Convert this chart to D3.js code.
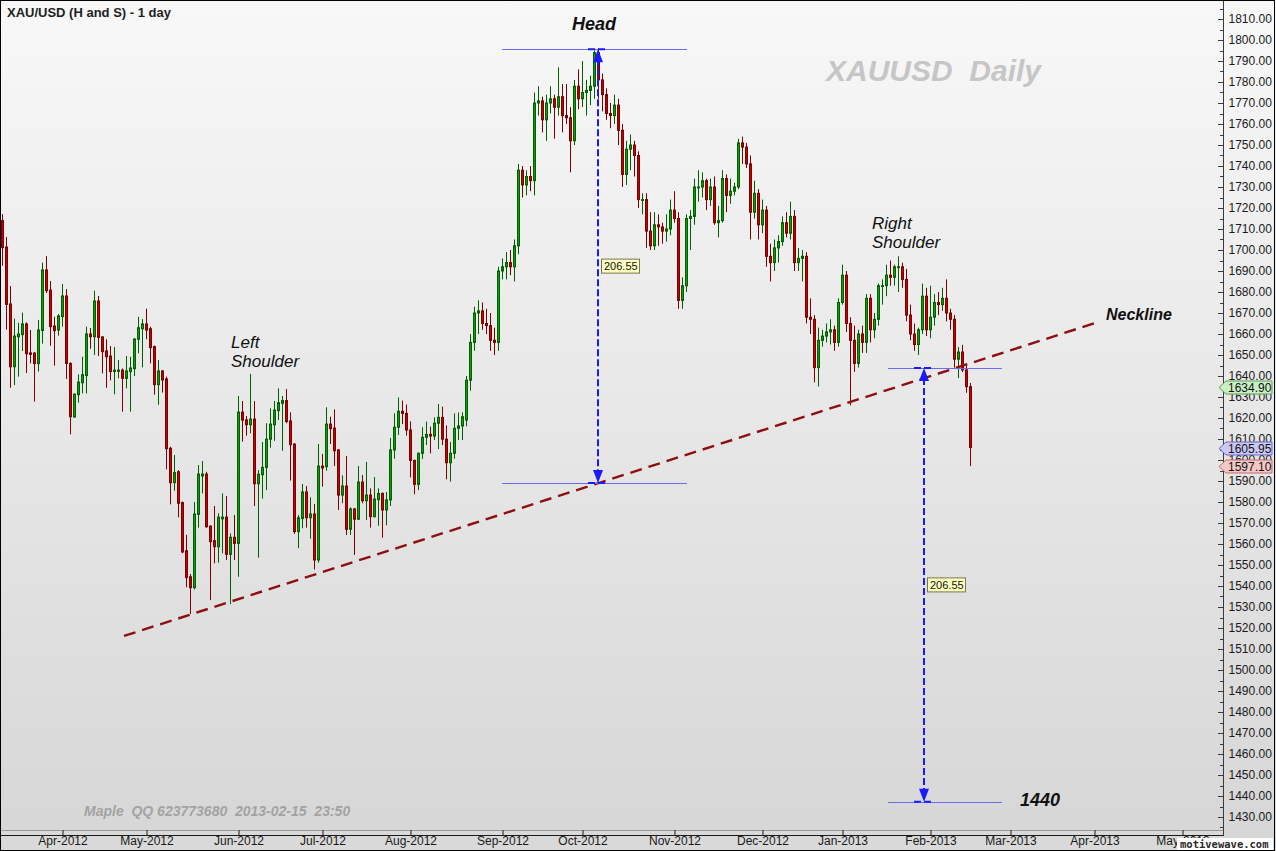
<!DOCTYPE html>
<html><head><meta charset="utf-8">
<script src="https://cdn.jsdelivr.net/npm/d3@7"></script>
<style>html,body{margin:0;padding:0;background:#fff;}svg{display:block;}</style>
</head><body>
<script>
// ---------- DATA (daily XAU/USD, first bar = 2012-03-12) ----------
const firstDay = "2012-03-12";
const lastAxisDay = "2013-05-31";
const holidays = ["2012-12-25", "2013-01-01"];
const openP = [1714.0,1701.4,1674.3,1644.4,1658.7,1659.7,1664.8,1651.0,1650.9,1645.9,1661.7,1690.5,1680.9,1663.8,1661.9,1668.3,1678.1,1646.0,1620.5,1631.1,
1636.8,1640.2,1660.0,1658.7,1675.7,1658.6,1651.9,1649.5,1642.1,1642.2,1642.8,1638.9,1642.1,1643.5,1657.5,1662.5,1664.8,1662.5,1654.0,1635.9,
1642.4,1638.6,1605.6,1589.2,1594.4,1579.7,1556.8,1544.4,1539.2,1574.1,1592.4,1593.3,1568.5,1561.6,1558.7,1572.0,1572.8,1555.1,1563.2,1560.3,
1622.8,1619.1,1616.8,1619.5,1588.7,1593.0,1596.5,1609.9,1616.8,1623.5,1627.0,1628.3,1618.6,1607.6,1565.9,1572.2,1584.8,1572.5,1574.3,1552.4,
1597.1,1596.8,1617.1,1615.2,1604.8,1583.3,1587.6,1567.0,1576.7,1571.8,1589.5,1580.6,1583.3,1573.0,1581.1,1584.1,1576.2,1581.0,1604.8,1615.6,
1623.2,1622.2,1614.3,1599.8,1588.4,1603.2,1610.8,1612.2,1611.4,1617.5,1620.3,1609.9,1598.7,1603.2,1615.1,1616.2,
1619,1638,1656,1670,1671,1665,1664,1657,1656,1690,1692,1694,1692,1702,1738,1731,1735,1733,1770,1771,
1762,1770,1772,1768,1773,1764,1763,1752,1778,1772,1775,1776,1778,1794,1781,1774,1765,1764,1769,1757,
1736,1748,1750,1745,1724,1724,1709,1702,1712,1711,1709,1710,1719,1715,1676,1683,1715,1716,1730,1730,
1733,1724,1730,1713,1714,1734,1726,1728,1730,1751,1749,1741,1718,1727,1712,1719,1697,1694,1701,1704,
1713,1708,1716,1694,1696,1697,1668,1667,1644,1657,1659,1661,1662,1656,1675,1688,1665,1657,1646,1660,
1656,1677,1662,1667,1683,1683,1688,1687,1692,1692,1686,1669,1660,1655,1662,1678,1662,1668,1675,1674,
1677,1670,1667,1648,1651.4,1642.9,1634.9];
const highP = [1717.1,1706.2,1682.8,1667.3,1665.4,1670.2,1665.5,1661.9,1651.5,1666.7,1694.0,1697.1,1685.2,1668.2,1669.5,1683.8,1681.4,1646.5,1631.6,1640.8,
1649.2,1663.5,1662.9,1680.6,1678.1,1659.0,1657.5,1654.3,1653.8,1647.6,1643.6,1649.5,1649.2,1658.0,1668.2,1667.1,1672.1,1663.5,1654.5,1647.6,
1642.8,1639.7,1606.3,1602.4,1595.2,1580.2,1564.4,1545.7,1580.0,1597.6,1599.5,1594.4,1568.9,1578.1,1574.6,1584.1,1582.9,1565.0,1573.8,1630.5,
1628.1,1620.9,1641.0,1628.0,1595.2,1608.6,1617.5,1624.6,1628.1,1634.1,1630.5,1633.8,1622.7,1608.0,1573.8,1588.6,1587.6,1582.2,1579.1,1607.6,
1602.9,1625.1,1620.6,1624.1,1605.2,1592.7,1601.9,1577.5,1577.2,1597.1,1592.9,1599.1,1586.5,1591.9,1586.5,1584.5,1584.8,1610.5,1622.2,1629.8,
1628.3,1626.4,1618.4,1600.2,1603.6,1615.6,1618.3,1615.9,1620.3,1626.7,1625.4,1616.5,1608.6,1622.2,1622.7,1622.7,
1640,1660,1673,1676,1675,1672,1670,1663,1692,1696,1699,1700,1705,1741,1740,1738,1740,1775,1778,1773,
1774,1778,1774,1787,1779,1779,1768,1781,1786,1790,1781,1783,1795,1796,1784,1777,1770,1774,1772,1760,
1752,1755,1752,1747,1727,1727,1718,1718,1717,1713,1717,1724,1728,1718,1687,1717,1719,1734,1738,1737,
1734,1734,1735,1721,1738,1736,1734,1732,1753,1754,1751,1745,1733,1729,1724,1721,1703,1705,1707,1716,
1718,1723,1719,1701,1700,1699,1677,1669,1663,1662,1665,1667,1664,1677,1693,1690,1668,1664,1662,1664,
1679,1679,1670,1684,1686,1693,1695,1693,1697,1694,1691,1674,1665,1663,1684,1682,1683,1679,1680,1682,
1686,1672,1669,1653.8,1654.8,1646,1636.7];
const lowP = [1692.5,1662.1,1634.4,1635.7,1639.7,1651.9,1641.4,1646.0,1627.8,1642.1,1655.4,1679.5,1654.4,1644.9,1659.2,1663.5,1638.6,1612.2,1620.2,1627.3,
1631.7,1631.7,1653.0,1650.0,1649.5,1641.3,1634.4,1637.9,1631.3,1638.9,1623.0,1634.1,1623.0,1640.0,1650.8,1644.1,1657.5,1646.0,1631.1,1626.3,
1632.1,1595.6,1578.9,1585.4,1572.7,1555.6,1539.4,1526.7,1538.4,1567.8,1584.1,1567.8,1533.3,1550.8,1551.1,1555.6,1552.4,1531.4,1552.4,1544.4,
1608.7,1611.6,1612.7,1578.1,1553.5,1581.6,1585.7,1605.9,1609.1,1619.1,1604.4,1617.5,1590.2,1564.8,1558.0,1567.5,1567.8,1562.5,1547.9,1551.1,
1587.3,1594.9,1607.6,1597.1,1576.2,1579.4,1564.3,1564.3,1554.8,1571.4,1579.4,1571.4,1567.8,1572.7,1568.7,1563.0,1568.9,1578.1,1600.6,1611.9,
1617.1,1611.6,1591.7,1583.7,1585.7,1600.5,1607.1,1603.2,1609.5,1605.2,1607.1,1590.8,1589.7,1600.6,1609.5,1609.5,
1616,1633,1652,1660,1662,1660,1652,1650,1652,1686,1686,1688,1685,1698,1725,1726,1728,1726,1764,1756,
1752,1765,1753,1764,1756,1760,1737,1750,1767,1768,1764,1769,1772,1772,1766,1762,1758,1760,1750,1730,
1731,1738,1735,1720,1717,1701,1700,1700,1702,1703,1704,1707,1713,1672,1672,1680,1700,1712,1723,1725,
1719,1721,1712,1706,1713,1718,1722,1726,1729,1741,1739,1705,1715,1705,1708,1692,1685,1690,1694,1702,
1706,1705,1690,1690,1685,1665,1660,1637,1635,1654,1656,1655,1652,1654,1674,1661,1626,1642,1644,1651,
1651,1656,1658,1664,1674,1678,1683,1683,1680,1682,1666,1657,1652,1650,1660,1659,1658,1664,1669,1671,
1666,1662,1644,1639,1641.9,1632,1597.1];
const closeP = [1701.1,1674.1,1644.4,1659.0,1660.0,1664.8,1650.6,1650.3,1645.9,1661.9,1690.5,1680.6,1663.5,1661.6,1668.6,1678.1,1646.0,1620.6,1631.4,1637.1,
1640.6,1660.0,1658.7,1675.7,1658.4,1651.6,1649.2,1642.1,1642.8,1642.8,1638.9,1642.4,1643.8,1657.6,1663.0,1664.8,1661.9,1653.5,1635.9,1642.4,
1638.1,1605.4,1589.2,1594.0,1579.4,1556.2,1544.0,1539.2,1574.3,1593.3,1593.3,1568.2,1561.1,1558.7,1572.8,1572.8,1555.1,1563.2,1560.3,1622.8,
1619.0,1616.8,1619.5,1588.7,1593.2,1596.5,1609.9,1617.1,1623.8,1627.3,1628.3,1618.3,1607.3,1565.9,1572.5,1584.8,1572.5,1574.3,1552.4,1597.1,
1596.2,1617.1,1614.9,1604.4,1583.3,1587.6,1567.0,1576.7,1571.8,1589.5,1580.6,1583.3,1573.0,1581.4,1584.1,1576.2,1581.0,1604.8,1615.6,1623.2,
1622.2,1614.3,1599.8,1588.4,1603.2,1610.8,1612.2,1611.4,1617.5,1620.3,1609.9,1598.7,1603.2,1615.1,1616.2,1620.6,
1638,1656,1670,1671,1665,1664,1657,1656,1690,1692,1694,1692,1702,1738,1731,1735,1733,1770,1771,1762,
1770,1772,1768,1773,1764,1763,1752,1778,1772,1775,1776,1778,1794,1781,1774,1765,1764,1769,1757,1736,
1748,1750,1745,1724,1724,1709,1702,1712,1711,1709,1710,1719,1715,1676,1683,1715,1716,1730,1730,1733,
1724,1730,1713,1714,1734,1726,1728,1730,1751,1749,1741,1718,1727,1712,1719,1697,1694,1701,1704,1713,
1708,1716,1694,1696,1697,1668,1667,1644,1657,1659,1661,1662,1656,1675,1688,1665,1657,1646,1660,1656,
1677,1662,1667,1683,1683,1688,1687,1692,1692,1686,1669,1660,1655,1662,1678,1662,1668,1675,1674,1677,
1670,1667,1648,1651.4,1642.9,1634.9,1605.95];
const yTickValues = d3.range(1430, 1811, 10);
const yMinorValues = d3.range(1425, 1816, 5);
const priceTags = [
  {value: 1634.90, fill: "#c9f0c4", stroke: "#5c9f55"},
  {value: 1605.95, fill: "#cbc8f5", stroke: "#6a66c2"},
  {value: 1597.10, fill: "#f5c8c8", stroke: "#c26a6a"}
];
// Neckline endpoints: [bar index, price]
const neckline = [[30.5, 1516.2], [273.25, 1665.2]];
// Measured moves: bar index of arrow, from/to price, horizontal line span (bar indexes)
const measures = [
  {at: 149, top: 1795.6, bottom: 1589.05, span: [125, 171.25]},
  {at: 230.5, top: 1643.8, bottom: 1437.25, span: [221.5, 250]}
];
const measureLabel = "206.55";

// ---------- BUILD TRADING DAYS ----------
const parse = d3.utcParse("%Y-%m-%d");
const fmtKey = d3.utcFormat("%Y-%m-%d");
const allDays = d3.utcDays(parse(firstDay), d3.utcDay.offset(parse(lastAxisDay), 1))
  .filter(d => d.getUTCDay() !== 0 && d.getUTCDay() !== 6 && !holidays.includes(fmtKey(d)));
const bars = closeP.map((c, i) => ({i, date: allDays[i], o: openP[i], h: highP[i], l: lowP[i], c}));

// ---------- SVG ----------
const W = 1276, H = 851;
const FONT = "'Liberation Sans', Arial, sans-serif";
const svg = d3.select("body").append("svg").attr("width", W).attr("height", H)
  .style("font-family", FONT);
const defs = svg.append("defs");
const grad = defs.append("linearGradient").attr("id", "bg").attr("x1", 0).attr("y1", 0).attr("x2", 0).attr("y2", 1);
grad.append("stop").attr("offset", "0%").attr("stop-color", "#f8f8f8");
grad.append("stop").attr("offset", "100%").attr("stop-color", "#d6d6d6");
svg.append("rect").attr("width", W).attr("height", H).attr("fill", "url(#bg)");

const plotRight = 1223, plotBottom = 830;
const x = d3.scaleLinear().domain([0, 1]).range([2, 6]);
const y = d3.scaleLinear().domain([1430, 1810]).range([817, 19]);

// bottom axis band
svg.append("rect").attr("x", 0).attr("y", plotBottom).attr("width", plotRight).attr("height", H - plotBottom).attr("fill", "#d9d9d9");
svg.append("line").attr("x1", 0).attr("x2", plotRight).attr("y1", plotBottom + 0.5).attr("y2", plotBottom + 0.5).attr("stroke", "#9a9a9a");
svg.append("line").attr("x1", 0).attr("x2", plotRight).attr("y1", plotBottom + 5.5).attr("y2", plotBottom + 5.5).attr("stroke", "#1a1a1a");

// month ticks
const monthStarts = [];
allDays.forEach((d, i) => { if (i > 0 && d.getUTCMonth() !== allDays[i - 1].getUTCMonth()) monthStarts.push(i); });
const xAxis = d3.axisBottom(x).tickValues(monthStarts).tickSize(5).tickPadding(3)
  .tickFormat(i => d3.utcFormat("%b-%Y")(allDays[i]));
const gx = svg.append("g").attr("transform", `translate(0.5,${plotBottom})`).call(xAxis);
gx.select(".domain").remove();
gx.selectAll(".tick line").attr("stroke", "#1a1a1a");
gx.selectAll(".tick text").attr("font-size", 12).attr("fill", "#1a1a1a")
  .attr("font-family", FONT).attr("dy", "0.6em");

// right axis
const gy = svg.append("g").attr("transform", `translate(${plotRight + 0.5},0)`)
  .call(d3.axisRight(y).tickValues(yTickValues).tickSize(0).tickPadding(5).tickFormat(d3.format(".2f")));
gy.select(".domain").remove();
gy.selectAll(".tick text").attr("font-size", 12).attr("fill", "#1a1a1a").attr("font-family", FONT);
svg.append("line").attr("x1", plotRight + 0.5).attr("x2", plotRight + 0.5).attr("y1", 0).attr("y2", plotBottom + 6).attr("stroke", "#3a3a3a");
svg.append("g").selectAll("line").data(yMinorValues).join("line")
  .attr("x1", d => plotRight - (d % 10 === 0 ? 5 : 3)).attr("x2", plotRight)
  .attr("y1", d => Math.round(y(d)) + 0.5).attr("y2", d => Math.round(y(d)) + 0.5)
  .attr("stroke", "#3a3a3a");

// ---------- TEXTS ----------
svg.append("text").attr("x", 7).attr("y", 17).attr("font-size", 13).attr("font-weight", "bold").attr("fill", "#1e1e1e")
  .text("XAU/USD (H and S) - 1 day");
svg.append("text").attr("x", 826).attr("y", 81).attr("font-size", 30).attr("font-weight", "bold").attr("font-style", "italic")
  .attr("fill", "#c6c6c6").style("white-space", "pre").text("XAUUSD  Daily");
svg.append("text").attr("x", 84).attr("y", 816).attr("font-size", 14).attr("font-weight", "bold").attr("font-style", "italic")
  .attr("fill", "#a3a3a3").style("white-space", "pre").text("Maple  QQ 623773680  2013-02-15  23:50");

// ---------- CANDLES ----------
const up = "#109a10", upDark = "#006000", dn = "#c40000", dnDark = "#7c0000";
const gC = svg.append("g");
gC.selectAll("line").data(bars).join("line")
  .attr("x1", d => x(d.i) + 0.5).attr("x2", d => x(d.i) + 0.5)
  .attr("y1", d => y(d.h)).attr("y2", d => y(d.l))
  .attr("stroke", d => d.c >= d.o ? upDark : dnDark).attr("stroke-width", 1);
gC.selectAll("rect").data(bars).join("rect")
  .attr("x", d => x(d.i) - 0.5).attr("width", 2)
  .attr("y", d => y(Math.max(d.o, d.c)))
  .attr("height", d => Math.max(0.8, Math.abs(y(d.o) - y(d.c))))
  .attr("fill", d => d.c >= d.o ? up : dn)
  .attr("stroke", d => d.c >= d.o ? upDark : dnDark).attr("stroke-width", 1);

// ---------- NECKLINE ----------
svg.append("line")
  .attr("x1", x(neckline[0][0])).attr("y1", y(neckline[0][1]))
  .attr("x2", x(neckline[1][0])).attr("y2", y(neckline[1][1]))
  .attr("stroke", "#8e0f0f").attr("stroke-width", 2.4).attr("stroke-dasharray", "12,7");

// ---------- MEASURES ----------
const blue = "#1a1aff";
measures.forEach(m => {
  const ax = x(m.at);
  [m.top, m.bottom].forEach(v => {
    svg.append("line").attr("x1", x(m.span[0])).attr("x2", x(m.span[1]))
      .attr("y1", Math.round(y(v)) + 0.5).attr("y2", Math.round(y(v)) + 0.5)
      .attr("stroke", "#6a6aff").attr("stroke-width", 1);
    svg.append("line").attr("x1", ax - 10).attr("x2", ax + 10).attr("y1", y(v)).attr("y2", y(v))
      .attr("stroke", blue).attr("stroke-width", 2).attr("stroke-dasharray", "7,3");
  });
  svg.append("line").attr("x1", ax).attr("x2", ax).attr("y1", y(m.top) + 10).attr("y2", y(m.bottom) - 10)
    .attr("stroke", blue).attr("stroke-width", 2).attr("stroke-dasharray", "7,3");
  const yt = y(m.top), yb = y(m.bottom);
  svg.append("path").attr("d", `M${ax},${yt} L${ax - 5},${yt + 13} L${ax + 5},${yt + 13} Z`).attr("fill", blue);
  svg.append("path").attr("d", `M${ax},${yb} L${ax - 5},${yb - 13} L${ax + 5},${yb - 13} Z`).attr("fill", blue);
  const mid = y((m.top + m.bottom) / 2);
  const g = svg.append("g").attr("transform", `translate(${ax + 3},${mid - 7.5})`);
  g.append("rect").attr("x", 0.5).attr("y", 0.5).attr("width", 38).attr("height", 14)
    .attr("fill", "#ffffc2").attr("stroke", "#77774a");
  g.append("text").attr("x", 3).attr("y", 11.5).attr("font-size", 11).attr("fill", "#111").text(measureLabel);
});

// ---------- LABELS ----------
const lab = (t, px, py, size, bold) => svg.append("text").attr("x", px).attr("y", py).attr("font-size", size)
  .attr("font-style", "italic").attr("font-weight", bold ? "bold" : "normal").attr("fill", "#111").text(t);
lab("Head", 572, 30, 18, true);
lab("Left", 231, 348, 17, false);
lab("Shoulder", 231, 367, 17, false);
lab("Right", 872, 229, 17, false);
lab("Shoulder", 872, 248, 17, false);
lab("Neckline", 1106, 320, 16, true);
lab("1440", 1020, 806, 18, true);

// ---------- PRICE TAGS ----------
priceTags.forEach(p => {
  const yc = Math.round(y(p.value)) + 0.5;
  svg.append("path").attr("d", `M${plotRight - 4},${yc} L${plotRight + 3},${yc - 6.5} L1272,${yc - 6.5} L1272,${yc + 6.5} L${plotRight + 3},${yc + 6.5} Z`)
    .attr("fill", p.fill).attr("stroke", p.stroke);
  svg.append("text").attr("x", plotRight + 5).attr("y", yc + 4.5).attr("font-size", 12).attr("fill", "#111")
    .text(d3.format(".2f")(p.value));
});

// ---------- WATERMARK + FRAME ----------
svg.append("rect").attr("x", 1177).attr("y", 838).attr("width", 96).attr("height", 12).attr("fill", "#fff");
svg.append("text").attr("x", 1180).attr("y", 848).attr("font-size", 10.5).attr("font-weight", "bold")
  .attr("font-family", "'DejaVu Sans Mono', monospace").attr("fill", "#2a2a2a").text("motivewave.com");
svg.append("rect").attr("x", 0.5).attr("y", 0.5).attr("width", W - 2).attr("height", H - 1)
  .attr("fill", "none").attr("stroke", "#000");
</script>
</body></html>
